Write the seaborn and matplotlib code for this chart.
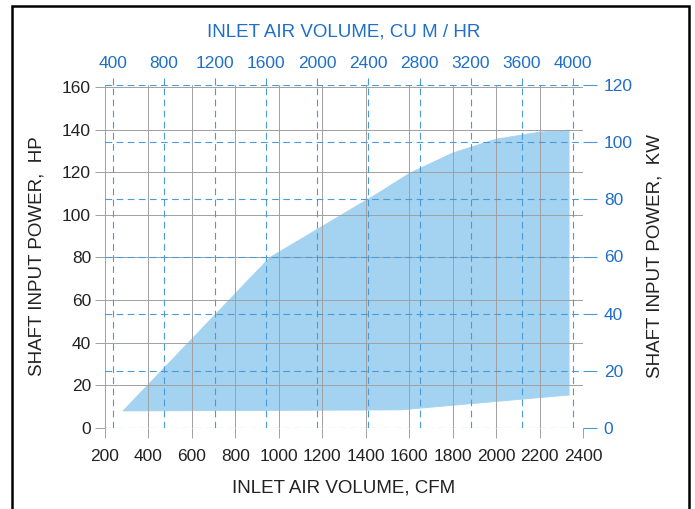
import numpy as np
import pandas as pd
import matplotlib
matplotlib.use("Agg")
import matplotlib.pyplot as plt
import seaborn as sns
from matplotlib.patches import Rectangle

# ---- data ----
upper_cfm = [283, 959, 1200, 1464, 1602, 1800, 2000, 2200, 2338]
upper_hp = [8.0, 80.0, 94.6, 110.6, 119.5, 129.0, 135.5, 138.8, 139.8]
lower_cfm = [283, 1560, 2338]
lower_hp = [8.0, 8.5, 15.5]

cfm_ticks = [200, 400, 600, 800, 1000, 1200, 1400, 1600, 1800, 2000, 2200, 2400]
hp_ticks = [0, 20, 40, 60, 80, 100, 120, 140, 160]
m3h_ticks = [400, 800, 1200, 1600, 2000, 2400, 2800, 3200, 3600, 4000]
kw_ticks = [0, 20, 40, 60, 80, 100, 120]

CFM_TO_M3H = 1.699
HP_TO_KW = 0.7457

# ---- style ----
sns.set_theme(style="white")
plt.rcParams["font.family"] = ["Liberation Sans", "DejaVu Sans"]

BLUE_TXT = "#1f6fc8"
BLUE_GRID = "#4a9ad8"
GREY = "#a0a0a0"
FILL = "#a3d3f0"
DARK = "#222222"
TICK_FS = 12.5
LABEL_FS = 13.5

fig = plt.figure(figsize=(6.95, 5.09), dpi=100)
ax = fig.add_axes([105 / 695, 1 - 428 / 509, (583 - 105) / 695, (428 - 85) / 509])

xmin, xmax = 200, 2400
ymax_kw = 120
ymax_hp = ymax_kw / HP_TO_KW

# polygon of the area
poly_x = upper_cfm + lower_cfm[::-1]
poly_y = upper_hp + lower_hp[::-1]
ax.fill(poly_x, poly_y, color=FILL, lw=0, zorder=1)
sns.lineplot(x=upper_cfm, y=upper_hp, ax=ax, color=FILL, lw=0.6, zorder=1)
sns.lineplot(x=lower_cfm, y=lower_hp, ax=ax, color=FILL, lw=0.6, zorder=1)

ax.set_xlim(xmin, xmax)
ax.set_ylim(0, ymax_hp)
ax.set_xticks(cfm_ticks)
ax.set_yticks(hp_ticks)
ax.set_xticklabels([str(t) for t in cfm_ticks])
ax.set_yticklabels([str(t) for t in hp_ticks])
ax.set_axisbelow(False)
ax.grid(True, color=GREY, lw=0.7, ls="-", zorder=2)
for s in ax.spines.values():
    s.set_visible(False)
ax.tick_params(axis="both", which="major", length=7, width=0.7, color=GREY,
               labelsize=TICK_FS, labelcolor=DARK, direction="out",
               bottom=True, left=True)
ax.tick_params(axis="x", pad=8)
ax.tick_params(axis="y", pad=3)
ax.set_xlabel("INLET AIR VOLUME, CFM", fontsize=LABEL_FS, color=DARK, labelpad=11)
ax.set_ylabel("SHAFT INPUT POWER,  HP", fontsize=LABEL_FS, color=DARK, labelpad=12)

# top axis: cu m / hr
axt = ax.twiny()
axt.set_xlim(xmin * CFM_TO_M3H, xmax * CFM_TO_M3H)
axt.set_xticks(m3h_ticks)
axt.set_xticklabels([str(t) for t in m3h_ticks])
axt.grid(True, color=BLUE_GRID, lw=0.8, ls=(0, (6, 4)))
axt.tick_params(axis="x", length=5, width=0.8, color=BLUE_GRID, labelsize=TICK_FS,
                labelcolor=BLUE_TXT, pad=5, top=True)
axt.set_xlabel("INLET AIR VOLUME, CU M / HR", fontsize=LABEL_FS, color=BLUE_TXT, labelpad=14)
for s in axt.spines.values():
    s.set_visible(False)

# right axis: kW
axr = ax.twinx()
axr.set_ylim(0, ymax_kw)
axr.set_yticks(kw_ticks)
axr.set_yticklabels([str(t) for t in kw_ticks])
axr.grid(True, color=BLUE_GRID, lw=0.8, ls=(0, (6, 4)))
axr.tick_params(axis="y", length=10, width=0.8, color=BLUE_GRID, labelsize=TICK_FS,
                labelcolor=BLUE_TXT, pad=5, right=True)
axr.set_ylabel("SHAFT INPUT POWER,  KW", fontsize=LABEL_FS, color=DARK, labelpad=10)
for s in axr.spines.values():
    s.set_visible(False)

# outer frame of the figure
fig.patches.append(Rectangle((12 / 695, -0.05), (689 - 12) / 695, 1.05 - 6 / 509,
                             transform=fig.transFigure, fill=False,
                             edgecolor="black", lw=1.8))

fig.savefig("out.png", dpi=100)
